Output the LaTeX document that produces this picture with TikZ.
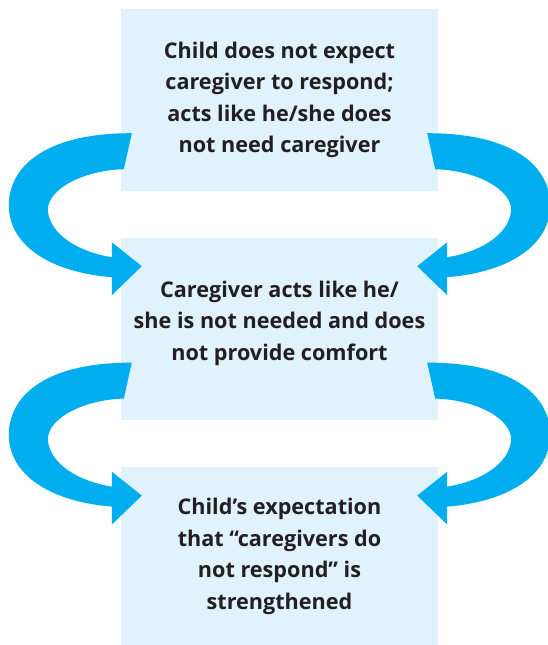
\documentclass[tikz,border=0pt]{standalone}
\usepackage{fontspec}
\setmainfont{Open Sans}
\usepackage{xcolor}
\usepackage{tikz}
\usetikzlibrary{positioning}
\definecolor{cyanx}{HTML}{00AEEF}
\definecolor{paleblue}{HTML}{E0F2FC}
\definecolor{inkx}{HTML}{231F20}
\tikzset{
  box/.style={fill=paleblue,inner sep=0pt,minimum width=317bp,minimum height=182bp,
    align=center,text=inkx,font=\fontsize{21.7}{31.6}\selectfont\bfseries},
  % curved block arrow, origin at the lower left corner of the upper box
  pics/turnarrow/.style={code={
    \fill[cyanx] (11,-58) .. controls (-81,-58) and (-112,-21) .. (-112,14)
      .. controls (-112,54) and (-71,81) .. (-9,86)
      -- (-9,104) -- (21,75) -- (-9,51) -- (-9,66)
      .. controls (-41,61) and (-71,44) .. (-73,19)
      .. controls (-73,-3) and (-36,-21) .. (3,-22) -- cycle;
  }}
}
\begin{document}
\begin{tikzpicture}[x=1bp,y=-1bp]
\useasboundingbox (0,0) rectangle (548,645);
\node[box] (top) at (279.5,100) {Child does not expect\\caregiver to respond;\\acts like he/she does\\not need caregiver};
\node[box,below=47bp of top,text depth=18bp] (mid) {Caregiver acts like he/\\she is not needed and does\\not provide comfort};
\node[box,below=46bp of mid,minimum height=179bp] (bot) {Child’s expectation\\that “caregivers do\\not respond” is\\strengthened};
\pic[shift={(top.south west)}] {turnarrow};
\pic[shift={(top.south east)},xscale=-1] {turnarrow};
\pic[shift={(mid.south west)}] {turnarrow};
\pic[shift={(mid.south east)},xscale=-1] {turnarrow};
\end{tikzpicture}
\end{document}
